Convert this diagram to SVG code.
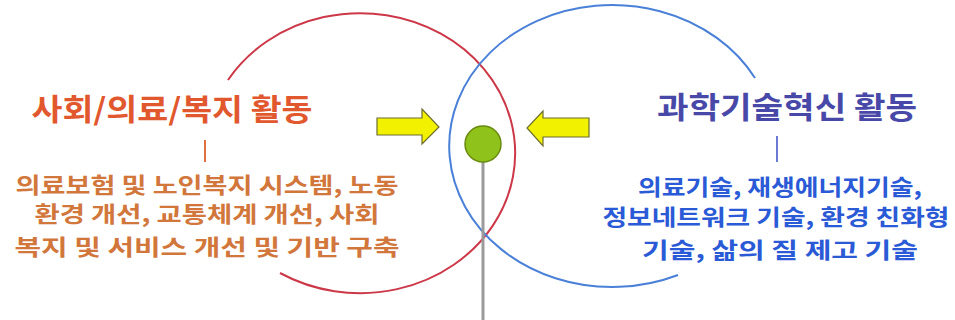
<svg xmlns="http://www.w3.org/2000/svg" width="955" height="320" viewBox="0 0 955 320">
<style>
.t{font-family:"Noto Sans CJK KR","Noto Sans",sans-serif;font-weight:700;text-anchor:middle}
.title{font-size:30px}
.list{font-size:22px}
.ring{fill:none;stroke-width:2}
.arrow{fill:#f2f200;stroke:#6d6d30;stroke-width:1.2}
</style>
<rect width="955" height="320" fill="#ffffff"/>
<g id="connectors">
<path class="ring" d="M228 80 A155 140 0 1 1 280 273" stroke="#cc3848"/>
<path class="ring" d="M678 275 A163 141 0 1 1 755 78" stroke="#4a80d8"/>
<line x1="205" y1="140" x2="205" y2="162" stroke="#e07040" stroke-width="2"/>
<line x1="777" y1="136" x2="777" y2="162" stroke="#6a7ad0" stroke-width="2"/>
<line x1="483" y1="162" x2="483" y2="320" stroke="#9a9a9a" stroke-width="3"/>
<path class="arrow" d="M377 118 H422 V109 L439 127 L422 144 V135 H377 Z"/>
<path class="arrow" d="M589 118 H543 V111 L527 128 L543 146 V137 H589 Z"/>
</g>
<g id="center">
<circle cx="483" cy="144" r="18" fill="#8fc21a" stroke="#6a8a10" stroke-width="1.5"/>
</g>
<g id="social">
<text class="t title" x="172" y="120" fill="#e2582e" textLength="281" lengthAdjust="spacingAndGlyphs">사회/의료/복지 활동</text>
<text class="t list" x="207" y="193" fill="#d2773c" textLength="383" lengthAdjust="spacingAndGlyphs">의료보험 및 노인복지 시스템, 노동</text>
<text class="t list" x="207" y="222" fill="#d2773c" textLength="345" lengthAdjust="spacingAndGlyphs">환경 개선, 교통체계 개선, 사회</text>
<text class="t list" x="207" y="255" fill="#d2773c" textLength="385" lengthAdjust="spacingAndGlyphs">복지 및 서비스 개선 및 기반 구축</text>
</g>
<g id="science">
<text class="t title" x="787" y="118" fill="#4848a8" textLength="260" lengthAdjust="spacingAndGlyphs">과학기술혁신 활동</text>
<text class="t list" x="780" y="195" fill="#2a5ad6" textLength="284" lengthAdjust="spacingAndGlyphs">의료기술, 재생에너지기술,</text>
<text class="t list" x="776" y="225" fill="#2a5ad6" textLength="347" lengthAdjust="spacingAndGlyphs">정보네트워크 기술, 환경 친화형</text>
<text class="t list" x="780" y="258" fill="#2a5ad6" textLength="276" lengthAdjust="spacingAndGlyphs">기술, 삶의 질 제고 기술</text>
</g>
</svg>
